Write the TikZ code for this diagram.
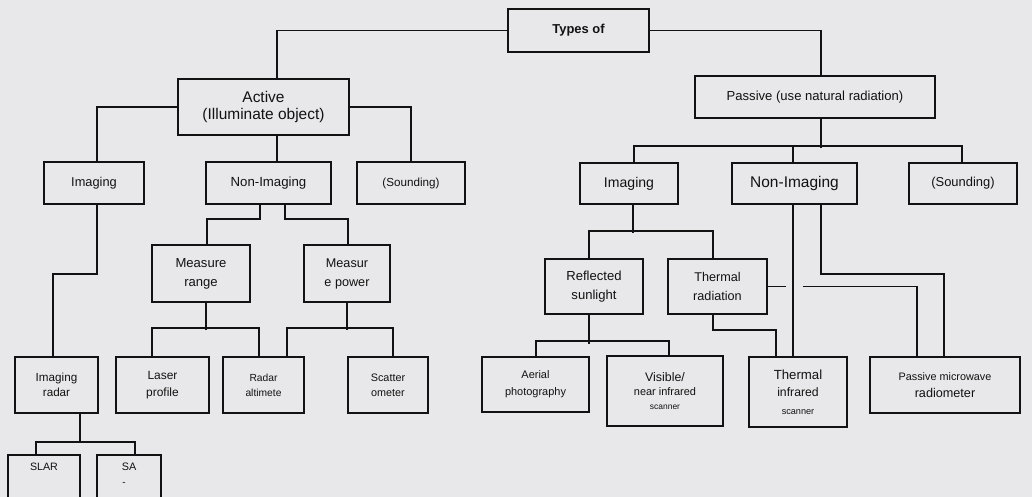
\documentclass[tikz,border=0pt]{standalone}
\usepackage{fontspec}
\setmainfont{Liberation Sans}
\usetikzlibrary{calc}
\definecolor{paper}{RGB}{232,232,234}
\definecolor{ink}{RGB}{18,18,18}
\newcommand{\fsz}[2]{\fontsize{#1}{#2}\selectfont}
\tikzset{
	box/.style={rectangle, draw=ink, line width=1.4pt, align=center, inner sep=1pt, text=ink},
	line/.style={draw=ink, line width=1.4pt}
}

\begin{document}
\begin{tikzpicture}[x=0.025cm, y=-0.025cm]
	% page size in pixels of the scan
	\useasboundingbox (0,0) rectangle (1032,497);
	\clip (0,0) rectangle (1032,497);
	\fill[paper] (0,0) rectangle (1032,497);

	% === NODES ===
	% root and the two main branches
	\node[box, minimum width=3.525cm, minimum height=1.075cm, font=\fsz{9.2}{11}\bfseries] (typesof) at (578.5,30.5) {Types of};
	\node[box, minimum width=4.275cm, minimum height=1.4cm, font=\fsz{11}{12.5}] (active) at (263.5,107) {Active\\(Illuminate object)};
	\node[box, minimum width=6cm, minimum height=1.05cm, font=\fsz{9.3}{11}] (passive) at (815,97) {Passive (use natural radiation)};

	% second level
	\node[box, minimum width=2.5cm, minimum height=1.05cm, font=\fsz{9.1}{11}] (aimg) at (94,183) {Imaging};
	\node[box, minimum width=3.125cm, minimum height=1.05cm, font=\fsz{9.4}{11}] (anon) at (268.5,183) {Non-Imaging};
	\node[box, minimum width=2.7cm, minimum height=1.05cm, font=\fsz{8.3}{10}] (asnd) at (411,183) {(Sounding)};
	\node[box, minimum width=2.45cm, minimum height=1.025cm, font=\fsz{10}{12}] (pimg) at (629,183.5) {Imaging};
	\node[box, minimum width=3.125cm, minimum height=1.025cm, font=\fsz{11}{13}] (pnon) at (794.5,183.5) {Non-Imaging};
	\node[box, minimum width=2.7cm, minimum height=1.025cm, font=\fsz{9.2}{11}] (psnd) at (963,183.5) {(Sounding)};

	% third level
	\node[box, minimum width=2.45cm, minimum height=1.425cm, font=\fsz{9.3}{13.5}] (mrange) at (201,273.5) {Measure\\range};
	\node[box, minimum width=2.15cm, minimum height=1.425cm, font=\fsz{9}{13.5}] (mpower) at (347,273.5) {Measur\\e power};
	\node[box, minimum width=2.45cm, minimum height=1.375cm, font=\fsz{9.3}{13.5}] (refl) at (594,286.5) {Reflected\\sunlight};
	\node[box, minimum width=2.475cm, minimum height=1.375cm, font=\fsz{9}{13}] (thrad) at (717.5,286.5) {Thermal\\radiation};

	% sensors
	\node[box, minimum width=2.075cm, minimum height=1.4cm, font=\fsz{8.3}{10.7}] (imgradar) at (56.5,385) {Imaging\\radar};
	\node[box, minimum width=2.325cm, minimum height=1.4cm, font=\fsz{8.5}{12}] (laser) at (162.5,385) {Laser\\profile};
	\node[box, minimum width=2.025cm, minimum height=1.4cm, font=\fsz{7.3}{10.7}] (radalt) at (263.5,385) {Radar\\altimete};
	\node[box, minimum width=2cm, minimum height=1.4cm, font=\fsz{7.7}{10.7}] (scatter) at (388,385) {Scatter\\ometer};
	\node[box, minimum width=2.675cm, minimum height=1.375cm, font=\fsz{7.8}{12}] (aerial) at (535.5,384.5) {Aerial\\photography};
	\node[box, minimum width=2.9cm, minimum height=1.75cm, font=\fsz{7.8}{10}] (visible) at (665,391) {{\fsz{8.8}{10}Visible/}\\near infrared\\{\fsz{6}{10}scanner}};
	\node[box, minimum width=2.45cm, minimum height=1.75cm, font=\fsz{8.7}{12.5}] (thinf) at (798,392) {{\fsz{9.4}{12.5}Thermal}\\infrared\\{\fsz{6.5}{12.5}scanner}};
	\node[box, minimum width=3.75cm, minimum height=1.4cm, font=\fsz{7.7}{12}] (pmw) at (945,385) {Passive microwave\\{\fsz{9}{12}radiometer}};

	% bottom row, cut by the page edge
	\node[box, anchor=north, inner sep=0pt, minimum width=1.8cm, text height=0.4cm, text depth=1.5cm, font=\fsz{7.6}{9}] (slar) at (44,454) {SLAR};
	\node[box, anchor=north, inner sep=0pt, minimum width=1.6cm, text height=0.4cm, text depth=1.5cm, font=\fsz{7.7}{9}] (sa) at (129,454) {SA};
	\node[text=ink, font=\fsz{7}{8}, inner sep=0pt] (sadash) at ($(sa.north)+(-5,30)$) {-};

	% === CONNECTIONS ===
	\draw[line] (typesof.west) -| ($(active.north)+(13.5,0)$);
	\draw[line] (typesof.east) -| ($(passive.north)+(6,0)$);

	% active branch
	\draw[line] (active.west) -| ($(aimg.north)+(3,0)$);
	\draw[line] ($(active.south)+(13.5,0)$) -- ($(anon.north)+(8.5,0)$);
	\draw[line] (active.east) -| (asnd.north);
	\draw[line] ($(anon.south)+(-8.5,0)$) -- ++(0,14) -| ($(mrange.north)+(6,0)$);
	\draw[line] ($(anon.south)+(16.5,0)$) -- ++(0,14) -| ($(mpower.north)+(1,0)$);
	\draw[line] ($(mrange.south)+(5,0)$) -- ++(0,27);
	\draw[line] ($(laser.north)+(-10.5,0)$) |- ($(radalt.north)+(-4.5,-28)$) -- ($(radalt.north)+(-4.5,0)$);
	\draw[line] (mpower.south) -- ++(0,27);
	\draw[line] ($(radalt.north)+(23.5,0)$) |- ($(scatter.north)+(5,-28)$) -- ($(scatter.north)+(5,0)$);
	\draw[line] ($(aimg.south)+(3,0)$) -- ++(0,69) -| ($(imgradar.north)+(-3.5,0)$);
	\draw[line] ($(imgradar.south)+(23.5,0)$) -- ++(0,29);
	\draw[line] ($(slar.north)+(-8,0)$) |- ($(sa.north)+(6,-12)$) -- ($(sa.north)+(6,0)$);

	% passive branch
	\draw[line] ($(passive.south)+(6,0)$) -- ++(0,29);
	\draw[line] ($(pimg.north)+(5,0)$) |- ($(psnd.north)+(-1,-16)$) -- ($(psnd.north)+(-1,0)$);
	\draw[line] ($(pnon.north)+(-1.5,-16)$) -- ($(pnon.north)+(-1.5,0)$);
	\draw[line] ($(pimg.south)+(4,0)$) -- ++(0,28);
	\draw[line] ($(refl.north)+(-5,0)$) |- ($(thrad.north)+(-4.5,-27)$) -- ($(thrad.north)+(-4.5,0)$);
	\draw[line] ($(refl.south)+(-5,0)$) -- ++(0,29);
	\draw[line] ($(aerial.north)+(0.5,0)$) |- ($(visible.north)+(4,-14)$) -- ($(visible.north)+(4,0)$);
	\draw[line] ($(thrad.south)+(-4.5,0)$) -- ++(0,15) -| ($(thinf.north)+(-22,0)$);
	\draw[line] ($(pnon.south)+(-1.5,0)$) -- ($(thinf.north)+(-5,0)$);
	\draw[line] ($(pnon.south)+(26.5,0)$) -- ++(0,69) -| ($(pmw.north)+(-1,0)$);
	\draw[line] (thrad.east) -- ++(18,0);
	\draw[line] ($(thrad.east)+(35,0)$) -| ($(pmw.north)+(-28,0)$);
\end{tikzpicture}
\end{document}
